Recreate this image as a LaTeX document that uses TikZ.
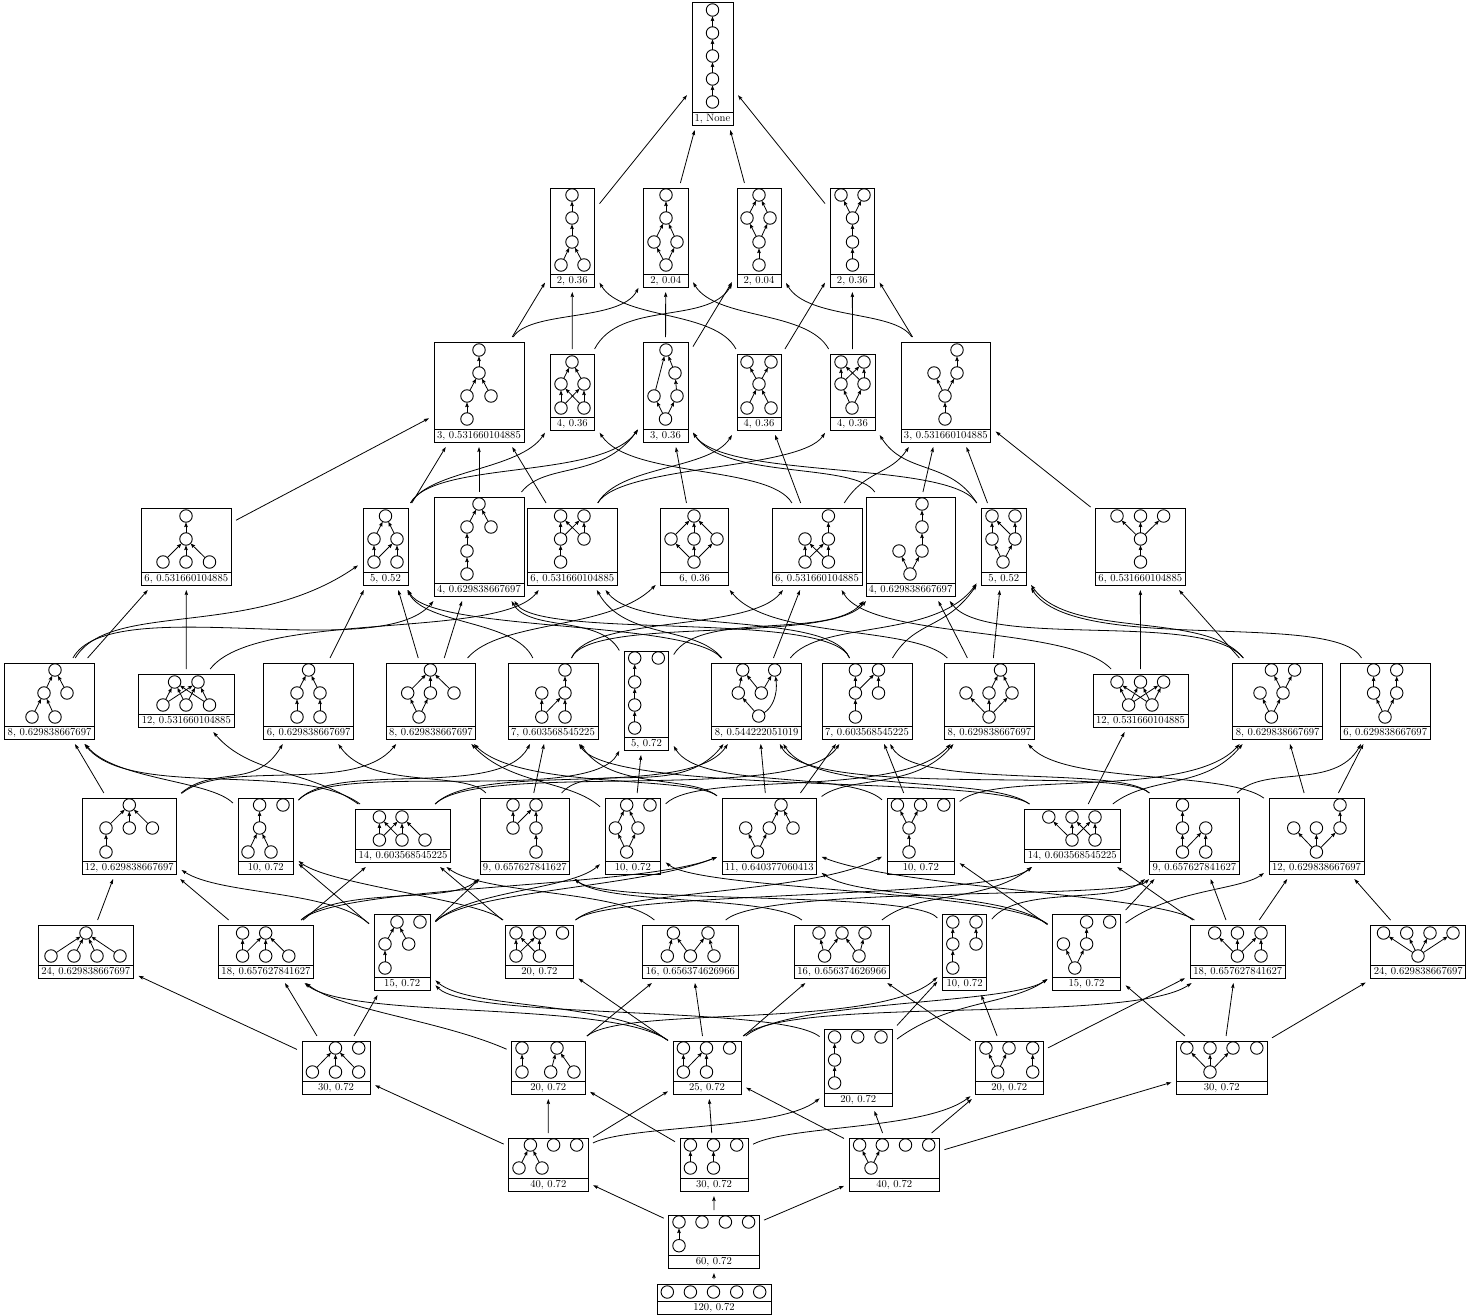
\documentclass[tikz,border=0pt]{standalone}
\usepackage{tikz}
\usetikzlibrary{arrows.meta}

\newcommand{\posetbox}[8]{%
  \pgfmathsetmacro{\boxw}{#4-#2}%
  \pgfmathsetmacro{\boxh}{#5-#3}%
  \node[panel, minimum width=\boxw pt, minimum height=\boxh pt] (#1) at ({(#2+#4)/2},{(#3+#5)/2}) {};
  \node[capt, minimum width=\boxw pt] (#1-cap) at ({(#2+#4)/2},{#5-6.5}) {#6};
  \foreach \cx/\cy [count=\n] in {#7} \node[elem] (#1-\n) at (\cx,\cy) {};
  \if\relax\detokenize{#8}\relax\else
    \foreach \lo/\hi in {#8} \draw[cover] (#1-\lo) -- (#1-\hi);
  \fi
}

\begin{document}
\begin{tikzpicture}[
  x=1pt, y=-1pt,
  font=\fontsize{10.6}{12}\selectfont,
  panel/.style={draw, line width=.9pt, inner sep=0pt, outer sep=5pt},
  capt/.style={draw, line width=.9pt, inner sep=0pt, minimum height=13pt, text height=7pt, text depth=1.5pt},
  elem/.style={circle, draw, line width=.9pt, inner sep=0pt, minimum size=12.5pt, outer sep=.2pt},
  cover/.style={-{Stealth[length=4.6pt,width=3.6pt,inset=.6pt]}, line width=.8pt},
  link/.style={-{Stealth[length=5pt,width=3.4pt,inset=.8pt]}, line width=.8pt},
]
\useasboundingbox (0,0) rectangle (1481,1316);

\posetbox{top}{692}{2}{733}{125}{1, None}{712.5/10,712.5/33,712.5/56,712.5/79,712.5/102}{5/4,4/3,3/2,2/1}

\posetbox{a1}{550}{188}{594.5}{287}{2, 0.36}{572/195,572/218,572/242,561/265,584/265}{4/3,5/3,3/2,2/1}
\posetbox{a2}{643.5}{188}{688}{287}{2, 0.04}{666/195,666/218,654/242,677/242,666/265}{5/3,5/4,3/2,4/2,2/1}
\posetbox{a3}{737}{188}{781}{287}{2, 0.04}{759/195,747/218,770/218,759/242,759/265}{5/4,4/2,4/3,2/1,3/1}
\posetbox{a4}{830}{188}{874.6}{287}{2, 0.36}{841/195,864/195,852.5/218,852.5/242,852.5/265}{5/4,4/3,3/1,3/2}

\posetbox{b1}{434}{342}{524}{442}{3, 0.531660104885}{479/350,479/373,467/396,491/396,467/419}{5/3,3/2,4/2,2/1}
\posetbox{b2}{550}{354}{594.6}{430}{4, 0.36}{572/362,561/384,584/384,561/408,584/408}{4/2,4/3,5/2,5/3,2/1,3/1}
\posetbox{b3}{643}{342}{688}{442}{3, 0.36}{666/350,675/373,654/396,677/396,665.5/419}{5/3,5/4,3/1,4/2,2/1}
\posetbox{b4}{737}{354}{781}{430}{4, 0.36}{747/362,771/362,759/384,747/408,771/408}{4/3,5/3,3/1,3/2}
\posetbox{b5}{830}{354}{875}{430}{4, 0.36}{841/362,864/362,841/384,864/384,852/408}{5/3,5/4,3/1,3/2,4/1,4/2}
\posetbox{b6}{901}{342}{990.6}{442}{3, 0.531660104885}{957/350,934/373,957/373,945/396,945/419}{5/4,4/2,4/3,3/1}

\posetbox{c1}{141.6}{508}{231}{585}{6, 0.531660104885}{186/516,186/539,163/562,186/562,209.5/562}{3/2,4/2,5/2,2/1}
\posetbox{c2}{363}{508}{408}{585}{5, 0.52}{385.5/516,374/539,397/539,374/562,397/562}{4/2,4/3,5/3,2/1,3/1}
\posetbox{c3}{434}{497}{524}{596}{4, 0.629838667697}{479/504,467/527,491/527,467/551,467/574}{5/4,4/2,2/1,3/1}
\posetbox{c4}{527.6}{508}{617}{585}{6, 0.531660104885}{560.6/516,584/516,560.6/539,584/539,560.6/562}{5/3,3/1,3/2,4/1,4/2}
\posetbox{c5}{660.7}{508}{728.6}{585}{6, 0.36}{694/516,671/539,694/539,717/539,694/562}{5/2,5/3,5/4,2/1,3/1,4/1}
\posetbox{c6}{772}{508}{862}{585}{6, 0.531660104885}{828.4/516,805/539,828.4/539,805/562,828.4/562}{4/2,4/3,5/2,5/3,3/1}
\posetbox{c7}{866}{497}{955}{596}{4, 0.629838667697}{922/504,922/527,899/551,922/551,910/574}{5/3,5/4,4/2,2/1}
\posetbox{c8}{981.6}{508}{1026}{585}{5, 0.52}{992/516,1015/516,992/539,1015/539,1003/562}{5/3,5/4,3/1,4/1,4/2}
\posetbox{c9}{1095.6}{508}{1185}{585}{6, 0.531660104885}{1117/516,1140.5/516,1163.6/516,1140.5/539,1140.5/562}{5/4,4/1,4/2,4/3}

\posetbox{d1}{4.7}{663}{94.4}{739}{8, 0.629838667697}{55/670,44/693,67/693,32/717,55/717}{4/2,5/2,2/1,3/1}
\posetbox{d2}{138.7}{674}{234}{727}{12, 0.531660104885}{174.6/682,198/682,163/705,186/705,209.5/705}{3/1,3/2,4/1,4/2,5/1,5/2}
\posetbox{d3}{263.8}{663}{353.5}{739}{6, 0.629838667697}{308.6/670,297/693,320/693,297/717,320/717}{4/2,5/3,2/1,3/1}
\posetbox{d4}{386}{663}{475.7}{739}{8, 0.629838667697}{430.4/670,407.7/693,430.4/693,454/693,419/717}{5/2,5/3,2/1,3/1,4/1}
\posetbox{d5}{508}{663}{598}{739}{7, 0.603568545225}{565/670,541.8/693,565/693,541.8/717,565/717}{4/2,4/3,5/3,3/1}
\posetbox{d6}{624.3}{651}{668.7}{750}{5, 0.72}{634.7/658,658.3/658,634.7/682,634.7/705,634.7/728}{5/4,4/3,3/1}
\posetbox{d7}{711.7}{663}{801.7}{739}{8, 0.544222051019}{742.7/670,774.7/670,738.3/693,761.3/693,758.7/716}{5/3,3/1,4/1,4/2}
\draw[cover] (d7-5) .. controls (772,708) and (778,695) .. (d7-2);
\posetbox{d8}{822}{663}{912}{739}{7, 0.603568545225}{855.4/670,878.5/670,855.4/693,878.5/693,855.4/717}{5/3,3/1,3/2,4/2}
\posetbox{d9}{944.7}{663}{1034}{739}{8, 0.629838667697}{1000.5/670,966/693,989/693,1012/693,989/717}{5/2,5/3,5/4,3/1,4/1}
\posetbox{d10}{1093}{674}{1188}{727}{12, 0.531660104885}{1117/682,1140.5/682,1163.6/682,1128.6/705,1152/705}{4/1,4/2,4/3,5/1,5/2,5/3}
\posetbox{d11}{1232.7}{663}{1322.5}{739}{8, 0.629838667697}{1271.4/670,1294.6/670,1260/693,1283/693,1271.4/717}{5/3,5/4,4/1,4/2}
\posetbox{d12}{1340.5}{663}{1430}{739}{6, 0.629838667697}{1373.6/670,1396.7/670,1373.6/693,1396.7/693,1385/717}{5/3,5/4,3/1,4/2}

\posetbox{e1}{82}{798}{176.5}{874}{12, 0.629838667697}{129.3/805,106/828,129.3/828,152.4/828,106/852}{5/2,2/1,3/1,4/1}
\posetbox{e2}{238}{798}{293.5}{874}{10, 0.72}{259.6/805,283/805,259.6/828,248/852,271/852}{4/3,5/3,3/1}
\posetbox{e3}{355.4}{809}{450.7}{862}{14, 0.603568545225}{379.4/817,402/817,379.4/840,402/840,425/840}{3/1,3/2,4/1,4/2,5/2}
\posetbox{e4}{480}{798}{569.6}{874}{9, 0.657627841627}{513/805,536/805,513/828,536/828,536/852}{3/1,3/2,5/4,4/2}
\posetbox{e5}{605}{798}{660.7}{874}{10, 0.72}{626.7/805,650/805,615.4/828,638/828,626.7/852}{5/3,5/4,3/1,4/1}
\posetbox{e6}{722}{798}{816.6}{874}{11, 0.640377060413}{781/805,745.7/828,769.3/828,793/828,757.5/852}{5/2,5/3,3/1,4/1}
\posetbox{e7}{887}{798}{954.7}{874}{10, 0.72}{897.4/805,920.6/805,943.8/805,909/828,909/852}{5/4,4/1,4/2}
\posetbox{e8}{1024.6}{809}{1120}{862}{14, 0.603568545225}{1048.8/817,1072/817,1095/817,1072/840,1095/840}{4/1,4/2,4/3,5/2,5/3}
\posetbox{e9}{1149.5}{798}{1239.3}{874}{9, 0.657627841627}{1182.5/805,1182.5/828,1205.7/828,1182.5/852,1205.7/852}{4/2,4/3,5/3,2/1}
\posetbox{e10}{1269}{798}{1364}{874}{12, 0.629838667697}{1340/805,1293.7/828,1316.4/828,1340/828,1316.4/852}{5/2,5/3,5/4,4/1}

\posetbox{f1}{38}{925}{133.5}{978}{24, 0.629838667697}{86/933,51/956,74/956,97/956,120/956}{2/1,3/1,4/1,5/1}
\posetbox{f2}{218.5}{925}{313.4}{978}{18, 0.657627841627}{242.6/933,265.7/933,242.6/956,265.7/956,288.8/956}{3/1,3/2,4/2,5/2}
\posetbox{f3}{374}{914}{430.4}{990}{15, 0.72}{397/922,420/922,385/944,408.7/944,385/968}{5/3,3/1,4/1}
\posetbox{f4}{505.4}{925}{573.4}{978}{20, 0.72}{516/933,539.4/933,562.5/933,516/956,539.4/956}{4/1,4/2,5/1,5/2}
\posetbox{f5}{642.8}{925}{738}{978}{16, 0.656374626966}{673.4/933,708/933,667.3/956,690.4/956,714/956}{3/1,4/1,4/2,5/2}
\posetbox{f6}{794.4}{925}{889.4}{978}{16, 0.656374626966}{819/933,842/933,865/933,824.6/956,859/956}{4/1,4/2,5/2,5/3}
\posetbox{f7}{942.4}{914}{986.8}{990}{10, 0.72}{952.8/922,976/922,952.8/944,976/944,952.8/968}{5/3,3/1,4/2}
\posetbox{f8}{1052.5}{914}{1120.6}{990}{15, 0.72}{1086.6/922,1109.7/922,1063.4/944,1086.6/944,1074.8/968}{5/3,5/4,4/1}
\posetbox{f9}{1190}{925}{1285.6}{978}{18, 0.657627841627}{1214.7/933,1237.4/933,1261/933,1237.4/956,1261/956}{4/1,4/2,4/3,5/3}
\posetbox{f10}{1370.7}{925}{1465.8}{978}{24, 0.629838667697}{1383.5/933,1406.7/933,1430/933,1453/933,1418/956}{5/1,5/2,5/3,5/4}

\posetbox{g1}{302}{1041}{370}{1094}{30, 0.72}{335.5/1048,358.7/1048,312.4/1072,335.5/1072,358.7/1072}{3/1,4/1,5/1}
\posetbox{g2}{511.6}{1041}{585}{1094}{20, 0.72}{522/1048,557/1048,522/1072,550.7/1072,573.9/1072}{3/1,4/2,5/2}
\posetbox{g3}{673}{1041}{741}{1094}{25, 0.72}{683.4/1048,706.5/1048,729.6/1048,683.4/1072,706.5/1072}{4/1,4/2,5/2}
\posetbox{g4}{824.6}{1029}{892}{1106}{20, 0.72}{834.6/1037,857.7/1037,881/1037,834.6/1060,834.6/1083}{5/4,4/1}
\posetbox{g5}{975.5}{1041}{1043}{1094}{20, 0.72}{985.9/1048,1009/1048,1032.7/1048,997.7/1072,1032.7/1072}{4/1,4/2,5/3}
\posetbox{g6}{1176.4}{1041}{1267}{1094}{30, 0.72}{1186.8/1048,1210/1048,1233/1048,1256.8/1048,1210/1072}{5/1,5/2,5/3}

\posetbox{h1}{508.7}{1138}{588}{1191}{40, 0.72}{530.4/1145,553.6/1145,576.7/1145,519/1168,542/1168}{4/1,5/1}
\posetbox{h2}{680}{1138}{748}{1191}{30, 0.72}{690.4/1145,713.5/1145,736.7/1145,690.4/1168,713.5/1168}{4/1,5/2}
\posetbox{h3}{849}{1138}{939.5}{1191}{40, 0.72}{859.6/1145,882.3/1145,905.5/1145,928.7/1145,871/1168}{5/1,5/2}

\posetbox{i1}{668.7}{1215}{759}{1268}{60, 0.72}{679/1222,702/1222,725.4/1222,748.6/1222,679/1245.7}{5/1}
\posetbox{j1}{657}{1284}{771}{1314}{120, 0.72}{667.3/1292,690.4/1292,713.5/1292,736.7/1292,759.7/1292}{}

\draw[link] (a1) -- (top);
\draw[link] (a2) -- (top);
\draw[link] (a3) -- (top);
\draw[link] (a4) -- (top);

\draw[link] (b1) -- (a1);
\draw[link] (b1) .. controls (530,310) and (620,322) .. (a2);
\draw[link] (b2) -- (a1);
\draw[link] (b2) .. controls (620,300) and (708,325) .. (a3);
\draw[link] (b3) -- (a2);
\draw[link] (b3) -- (a3);
\draw[link] (b4) .. controls (715,310) and (622,320) .. (a1);
\draw[link] (b4) -- (a4);
\draw[link] (b5) .. controls (807,310) and (716,320) .. (a2);
\draw[link] (b5) -- (a4);
\draw[link] (b6) .. controls (895,310) and (808,320) .. (a3);
\draw[link] (b6) -- (a4);

\draw[link] (c1) -- (b1);
\draw[link] (c2) -- (b1);
\draw[link] (c2) .. controls (430,470) and (520,470) .. (b2);
\draw[link] (c2) .. controls (435,460) and (601,480) .. (b3);
\draw[link] (c3) -- (b1);
\draw[link] (c3) .. controls (545,462) and (601,480) .. (b3);
\draw[link] (c4) -- (b1);
\draw[link] (c4) .. controls (620,465) and (710,470) .. (b4);
\draw[link] (c4) .. controls (620,465) and (800,470) .. (b5);
\draw[link] (c5) -- (b3);
\draw[link] (c6) .. controls (770,465) and (630,478) .. (b2);
\draw[link] (c6) -- (b4);
\draw[link] (c6) .. controls (865,470) and (890,475) .. (b6);
\draw[link] (c7) .. controls (855,462) and (725,480) .. (b3);
\draw[link] (c7) -- (b6);
\draw[link] (c8) .. controls (950,460) and (725,480) .. (b3);
\draw[link] (c8) .. controls (950,460) and (905,475) .. (b5);
\draw[link] (c8) -- (b6);
\draw[link] (c9) -- (b6);

\draw[link] (d1) -- (c1);
\draw[link] (d1) .. controls (110,600) and (250,640) .. (c2);
\draw[link] (d1) .. controls (110,590) and (380,665) .. (c3);
\draw[link] (d2) -- (c1);
\draw[link] (d2) .. controls (255,610) and (500,640) .. (c4);
\draw[link] (d3) -- (c2);
\draw[link] (d4) -- (c2);
\draw[link] (d4) -- (c3);
\draw[link] (d4) .. controls (500,620) and (610,630) .. (c5);
\draw[link] (d5) .. controls (515,620) and (425,625) .. (c2);
\draw[link] (d5) .. controls (590,615) and (750,632) .. (c6);
\draw[link] (d5) .. controls (590,615) and (830,645) .. (c7);
\draw[link] (d6) .. controls (600,615) and (530,632) .. (c3);
\draw[link] (d6) .. controls (700,610) and (830,640) .. (c7);
\draw[link] (d7) .. controls (690,620) and (430,632) .. (c2);
\draw[link] (d7) .. controls (695,625) and (625,640) .. (c4);
\draw[link] (d7) -- (c6);
\draw[link] (d7) .. controls (820,620) and (935,640) .. (c8);
\draw[link] (d8) .. controls (830,610) and (540,640) .. (c3);
\draw[link] (d8) .. controls (830,610) and (640,635) .. (c4);
\draw[link] (d8) .. controls (915,620) and (945,630) .. (c8);
\draw[link] (d9) .. controls (915,625) and (770,640) .. (c5);
\draw[link] (d9) -- (c7);
\draw[link] (d9) -- (c8);
\draw[link] (d10) .. controls (1070,625) and (870,640) .. (c6);
\draw[link] (d10) -- (c9);
\draw[link] (d11) .. controls (1205,610) and (985,650) .. (c7);
\draw[link] (d11) .. controls (1205,610) and (1070,640) .. (c8);
\draw[link] (d11) -- (c9);
\draw[link] (d12) .. controls (1335,610) and (1075,655) .. (c8);

\draw[link] (e1) -- (d1);
\draw[link] (e1) .. controls (215,765) and (255,790) .. (d3);
\draw[link] (e1) .. controls (225,758) and (355,795) .. (d4);
\draw[link] (e2) .. controls (210,780) and (115,780) .. (d1);
\draw[link] (e2) .. controls (335,760) and (500,800) .. (d5);
\draw[link] (e2) .. controls (335,760) and (590,805) .. (d6);
\draw[link] (e3) .. controls (300,760) and (130,800) .. (d1);
\draw[link] (e3) .. controls (310,770) and (250,775) .. (d2);
\draw[link] (e3) .. controls (480,760) and (690,800) .. (d7);
\draw[link] (e3) .. controls (480,760) and (800,805) .. (d8);
\draw[link] (e4) .. controls (465,770) and (370,790) .. (d3);
\draw[link] (e4) -- (d5);
\draw[link] (e4) .. controls (590,760) and (680,800) .. (d7);
\draw[link] (e5) .. controls (570,780) and (510,785) .. (d4);
\draw[link] (e5) -- (d6);
\draw[link] (e5) .. controls (700,770) and (900,800) .. (d9);
\draw[link] (e6) .. controls (690,775) and (520,790) .. (d4);
\draw[link] (e6) .. controls (690,775) and (610,790) .. (d5);
\draw[link] (e6) -- (d7);
\draw[link] (e6) -- (d8);
\draw[link] (e6) .. controls (850,775) and (915,790) .. (d9);
\draw[link] (e7) .. controls (850,770) and (700,790) .. (d6);
\draw[link] (e7) -- (d8);
\draw[link] (e7) .. controls (995,770) and (1190,800) .. (d11);
\draw[link] (e8) .. controls (990,775) and (610,795) .. (d5);
\draw[link] (e8) .. controls (990,775) and (815,795) .. (d7);
\draw[link] (e8) -- (d10);
\draw[link] (e8) .. controls (1150,775) and (1205,790) .. (d11);
\draw[link] (e9) .. controls (1120,765) and (810,800) .. (d7);
\draw[link] (e9) .. controls (1120,765) and (915,790) .. (d8);
\draw[link] (e9) .. controls (1265,765) and (1335,790) .. (d12);
\draw[link] (e10) .. controls (1225,770) and (1065,785) .. (d9);
\draw[link] (e10) -- (d11);
\draw[link] (e10) -- (d12);

\draw[link] (f1) -- (e1);
\draw[link] (f2) -- (e1);
\draw[link] (f2) -- (e3);
\draw[link] (f2) .. controls (340,885) and (450,905) .. (e4);
\draw[link] (f2) .. controls (340,885) and (640,888) .. (e6);
\draw[link] (f3) .. controls (330,890) and (220,895) .. (e1);
\draw[link] (f3) -- (e2);
\draw[link] (f3) -- (e4);
\draw[link] (f3) .. controls (470,890) and (570,890) .. (e5);
\draw[link] (f3) .. controls (470,890) and (640,888) .. (e6);
\draw[link] (f4) .. controls (480,900) and (330,885) .. (e2);
\draw[link] (f4) -- (e3);
\draw[link] (f4) .. controls (610,890) and (810,895) .. (e7);
\draw[link] (f4) .. controls (610,890) and (990,900) .. (e8);
\draw[link] (f5) .. controls (620,890) and (485,895) .. (e3);
\draw[link] (f5) .. controls (765,885) and (1127,900) .. (e9);
\draw[link] (f6) .. controls (770,895) and (605,905) .. (e4);
\draw[link] (f6) .. controls (920,890) and (985,903) .. (e8);
\draw[link] (f7) .. controls (915,890) and (605,905) .. (e4);
\draw[link] (f7) .. controls (1020,885) and (1115,905) .. (e9);
\draw[link] (f8) .. controls (1000,890) and (700,890) .. (e5);
\draw[link] (f8) .. controls (1000,890) and (860,900) .. (e6);
\draw[link] (f8) -- (e7);
\draw[link] (f8) -- (e9);
\draw[link] (f8) .. controls (1170,890) and (1240,890) .. (e10);
\draw[link] (f9) .. controls (1160,895) and (900,888) .. (e6);
\draw[link] (f9) -- (e8);
\draw[link] (f9) -- (e9);
\draw[link] (f9) -- (e10);
\draw[link] (f10) -- (e10);

\draw[link] (g1) -- (f1);
\draw[link] (g1) -- (f2);
\draw[link] (g1) -- (f3);
\draw[link] (g2) .. controls (440,1020) and (340,1010) .. (f2);
\draw[link] (g2) -- (f5);
\draw[link] (g2) .. controls (625,1005) and (880,1030) .. (f7);
\draw[link] (g3) .. controls (610,1000) and (350,1020) .. (f2);
\draw[link] (g3) .. controls (610,1000) and (470,1010) .. (f3);
\draw[link] (g3) -- (f4);
\draw[link] (g3) -- (f5);
\draw[link] (g3) -- (f6);
\draw[link] (g3) .. controls (790,1000) and (1010,1005) .. (f8);
\draw[link] (g3) .. controls (790,995) and (1130,1025) .. (f9);
\draw[link] (g4) .. controls (780,1005) and (470,1020) .. (f3);
\draw[link] (g4) -- (f7);
\draw[link] (g4) .. controls (950,1000) and (1010,1005) .. (f8);
\draw[link] (g5) -- (f6);
\draw[link] (g5) -- (f7);
\draw[link] (g5) -- (f9);
\draw[link] (g6) -- (f8);
\draw[link] (g6) -- (f9);
\draw[link] (g6) -- (f10);

\draw[link] (h1) -- (g1);
\draw[link] (h1) -- (g2);
\draw[link] (h1) -- (g3);
\draw[link] (h1) .. controls (630,1125) and (780,1130) .. (g4);
\draw[link] (h2) -- (g2);
\draw[link] (h2) -- (g3);
\draw[link] (h2) .. controls (790,1125) and (925,1130) .. (g5);
\draw[link] (h3) -- (g3);
\draw[link] (h3) -- (g4);
\draw[link] (h3) -- (g5);
\draw[link] (h3) -- (g6);

\draw[link] (i1) -- (h1);
\draw[link] (i1) -- (h2);
\draw[link] (i1) -- (h3);
\draw[link] (j1) -- (i1);
\end{tikzpicture}
\end{document}
